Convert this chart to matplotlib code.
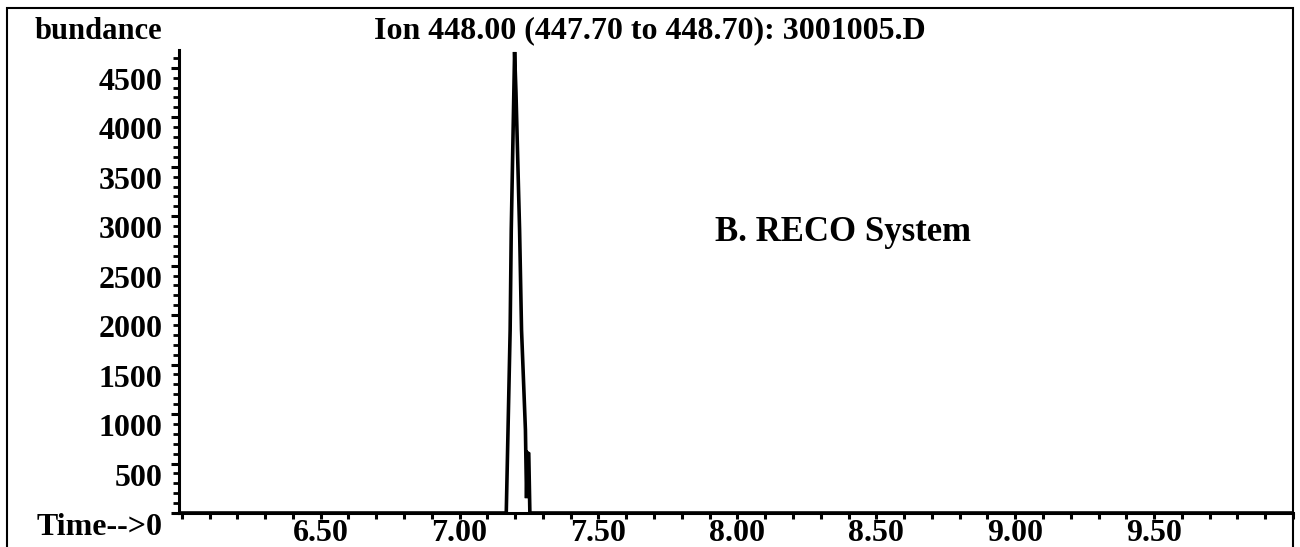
import matplotlib.pyplot as plt
from matplotlib.patches import Rectangle
from matplotlib.ticker import MultipleLocator, FixedLocator

# ion chromatogram, m/z 448
times = [6.00, 7.168, 7.182, 7.186, 7.198, 7.203, 7.216, 7.223, 7.237, 7.241, 7.244, 7.249, 7.253, 10.00]
abund = [0, 0, 1850, 2860, 4660, 4250, 2860, 1850, 840, 150, 610, 600, 0, 0]

x_labels = ["6.50", "7.00", "7.50", "8.00", "8.50", "9.00", "9.50"]
y_ticks = [0, 500, 1000, 1500, 2000, 2500, 3000, 3500, 4000, 4500]
y_labels = ["Time-->0"] + [str(v) for v in y_ticks[1:]]

title = "Ion 448.00 (447.70 to 448.70): 3001005.D"
note = "B. RECO System"

plt.rcParams['font.family'] = ['Liberation Serif', 'DejaVu Serif']
plt.rcParams['font.weight'] = 'bold'
fs = 23

W, H = 1300, 547
fig = plt.figure(figsize=(W / 100, H / 100), dpi=100)
ax = fig.add_axes([179 / W, 1 - 513 / H, (1293 - 179) / W, (513 - 50) / H])

ax.plot(times, abund, color='black', lw=2.6, solid_joinstyle='miter')
ax.set_xlim(5.99, 10.0)
ax.set_ylim(0, 4680)

for s in ['top', 'right']:
    ax.spines[s].set_visible(False)
for s in ['left', 'bottom']:
    ax.spines[s].set_linewidth(2.2)

ax.xaxis.set_major_locator(FixedLocator([float(t) for t in x_labels]))
ax.set_xticklabels(x_labels)
ax.xaxis.set_minor_locator(MultipleLocator(0.1))
ax.tick_params(axis='x', which='both', direction='out', length=4, width=2.2, pad=0, labelsize=fs)

ax.set_yticks(y_ticks)
ax.set_yticklabels(y_labels)
ax.yaxis.set_minor_locator(MultipleLocator(100))
ax.tick_params(axis='y', which='major', direction='out', length=6, width=2.2, pad=6, labelsize=fs)
ax.tick_params(axis='y', which='minor', direction='out', length=4, width=2)
for lab in ax.get_yticklabels():
    lab.set_va('top')

# outer frame of the printout
fig.patches.append(Rectangle((7 / W, -0.05), (1293 - 7) / W, 1.05 - 8 / H,
                             transform=fig.transFigure, fill=False, lw=1.5, ec='black'))

fig.text(35 / W, 1 - 39 / H, "bundance", fontsize=22, fontweight='bold', ha='left', va='baseline')
fig.text(650 / W, 1 - 38 / H, title, fontsize=23, fontweight='bold', ha='center', va='baseline')
ax.text(7.92, 2750, note, fontsize=25, fontweight='bold', ha='left', va='baseline')

fig.savefig("out.png", dpi=100)
